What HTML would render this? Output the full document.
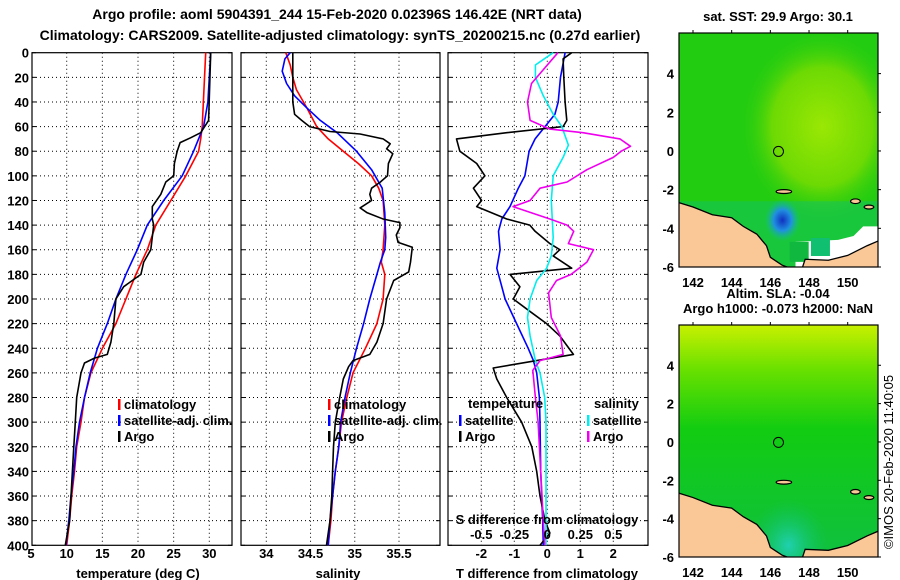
<!DOCTYPE html>
<html><head><meta charset="utf-8"><style>
body{margin:0;background:#fff}
svg{display:block;font-family:"Liberation Sans",sans-serif}
.tk{font-size:13px;font-weight:bold;fill:#000}
.grid{stroke:#000;stroke-width:1;stroke-dasharray:1 3}
</style></head><body>
<svg id="c" width="900" height="580" viewBox="0 0 900 580">
<defs>
<radialGradient id="sstY" cx="0.72" cy="0.4" r="0.42"><stop offset="0" stop-color="#b8ee00"/><stop offset="0.6" stop-color="#80dd00"/><stop offset="1" stop-color="#22cc11" stop-opacity="0"/></radialGradient>
<radialGradient id="sstB" cx="0.52" cy="0.8" r="0.09"><stop offset="0" stop-color="#1030c0"/><stop offset="0.5" stop-color="#2090e0"/><stop offset="1" stop-color="#10c090" stop-opacity="0"/></radialGradient>
<linearGradient id="slaG" x1="0" y1="0" x2="0" y2="1"><stop offset="0" stop-color="#c8f000"/><stop offset="0.2" stop-color="#66e000"/><stop offset="0.45" stop-color="#11cc11"/><stop offset="1" stop-color="#10c040"/></linearGradient>
<radialGradient id="slaC" cx="0.55" cy="0.95" r="0.2"><stop offset="0" stop-color="#20d0b0"/><stop offset="1" stop-color="#10c060" stop-opacity="0"/></radialGradient>
<clipPath id="m1c"><rect x="679" y="33" width="199" height="234"/></clipPath>
<clipPath id="m2c"><rect x="679" y="325" width="199" height="232"/></clipPath>
</defs>
<text x="337" y="19" text-anchor="middle" font-size="14" font-weight="bold">Argo profile: aoml 5904391_244 15-Feb-2020 0.02396S 146.42E (NRT data)</text>
<text x="340" y="40" text-anchor="middle" font-size="14" font-weight="bold">Climatology: CARS2009. Satellite-adjusted climatology: synTS_20200215.nc (0.27d earlier)</text>
<g id="plots"></g>
<g id="maps"></g>
<text transform="translate(893,462) rotate(-90)" text-anchor="middle" font-size="13">©IMOS 20-Feb-2020 11:40:05</text>
</svg>
<script>
// ---- data (depth in dbar) ----
const depthTicks=[0,20,40,60,80,100,120,140,160,180,200,220,240,260,280,300,320,340,360,380,400];
const tempTicks=[5,10,15,20,25,30];
const salTicks=[34,34.5,35,35.5];
const tdiffTicks=[-2,-1,0,1,2];
const sdiffTicks=[-0.5,-0.25,0,0.25,0.5];
const sdiffLabels=['-0.5','-0.25','0','0.25','0.5'];
const tClimD=[0,60,70,80,100,120,140,160,180,200,220,240,260,280,300,320,340,360,380,400];
const tClim=[29.5,29.0,28.8,28.5,26.7,24.6,22.5,21.3,19.7,18.3,16.9,15.0,13.4,12.5,12.0,11.4,11.1,10.7,10.4,10.0];
const tSatD=[0,40,60,80,100,120,140,160,180,200,220,240,260,280,300,320,340,360,380,400];
const tSat=[30.2,29.8,29.2,27.8,26.2,23.6,21.3,19.9,18.3,16.9,15.7,14.3,13.3,12.5,11.8,11.3,11.0,10.6,10.3,9.9];
const tArgoD=[0,55,65,69,73,80,90,100,105,115,125,135,140,160,170,180,185,190,200,220,235,245,248,252,260,280,300,320,340,360,380,400];
const tArgo=[30.2,29.9,28.8,27.4,25.9,25.5,25.1,25.0,23.9,23.2,22.0,22.0,22.2,21.8,20.8,20.4,19.2,18.0,16.9,16.6,16.2,15.7,13.9,12.5,12.0,11.4,11.2,11.0,10.8,10.6,10.4,9.8];
const sClimD=[0,10,20,30,45,60,70,80,90,100,110,120,140,160,170,180,200,220,240,260,280,300,320,340,360,380,400];
const sClim=[34.22,34.27,34.30,34.34,34.46,34.57,34.70,34.87,35.04,35.19,35.27,35.32,35.34,35.32,35.30,35.34,35.32,35.25,35.12,34.98,34.91,34.85,34.82,34.78,34.75,34.73,34.70];
const sSatD=[0,5,15,25,35,45,55,65,80,95,110,130,150,160,170,180,200,220,240,260,280,300,320,340,360,380,400];
const sSat=[34.27,34.21,34.18,34.23,34.32,34.46,34.61,34.80,35.02,35.19,35.31,35.34,35.35,35.34,35.29,35.25,35.17,35.10,35.02,34.95,34.89,34.84,34.82,34.78,34.75,34.72,34.70];
const sArgoD=[0,40,50,55,60,64,66,70,74,78,82,90,100,105,110,115,120,126,130,135,138,142,148,154,158,170,178,185,200,220,235,245,250,255,265,280,300,320,340,360,380,400];
const sArgo=[34.30,34.30,34.32,34.40,34.49,34.72,35.06,35.32,35.40,35.36,35.43,35.38,35.37,35.29,35.19,35.17,35.19,35.06,35.14,35.32,35.51,35.51,35.47,35.49,35.65,35.63,35.61,35.44,35.36,35.32,35.25,35.17,34.98,34.93,34.87,34.83,34.78,34.76,34.75,34.74,34.72,34.68];
const dTSatD=[0,20,40,50,60,70,80,100,110,125,135,145,160,175,190,200,220,240,250,260,280,300,340,380,400];
const dTSat=[0.54,0.40,0.33,0.23,-0.07,-0.37,-0.55,-0.68,-0.88,-1.13,-1.38,-1.48,-1.43,-1.53,-1.38,-1.28,-0.93,-0.58,-0.42,-0.32,-0.24,-0.22,-0.20,-0.14,-0.12];
const dTArgoD=[0,5,20,40,55,60,65,70,80,90,100,110,120,125,135,140,145,155,160,165,175,180,190,200,210,220,230,245,250,256,265,280,300,320,340,360,380,390,400];
const dTArgo=[0.74,0.48,0.50,0.54,0.59,0.48,-1.23,-2.75,-2.65,-2.14,-1.89,-2.24,-1.99,-2.14,-1.23,-0.53,-0.37,0.08,0.38,0.18,0.74,-1.13,-0.83,-1.03,-0.53,-0.02,0.38,0.79,-0.32,-1.64,-1.53,-1.23,-0.78,-0.47,-0.32,-0.22,-0.07,0.08,-0.22];
const dSSatD=[0,10,20,35,50,60,75,85,100,120,150,165,175,185,200,215,230,250,260,280,300,340,400];
const dSSat=[0.045,-0.09,-0.09,-0.03,0.045,0.11,0.16,0.12,0.045,0.03,0.045,0.03,-0.005,-0.08,-0.13,-0.15,-0.13,-0.09,-0.055,-0.02,-0.01,-0.01,-0.01];
const dSArgoD=[0,10,25,40,55,62,65,70,76,80,85,95,105,110,120,125,135,140,145,155,160,170,180,185,195,215,230,245,250,258,280,300,340,380,400];
const dSArgo=[0.08,0,-0.12,-0.15,-0.13,0.02,0.27,0.55,0.63,0.56,0.50,0.30,0.15,-0.055,-0.13,-0.26,0.02,0.15,0.20,0.16,0.35,0.30,0.18,0.07,0.01,0.03,0.10,0.12,-0.055,-0.11,-0.09,-0.07,-0.05,-0.03,-0.02];
const lonTicks=[142,144,146,148,150];
const latTicks=[-6,-4,-2,0,2,4];
const floatLon=146.42, floatLat=-0.02396;

const NS='http://www.w3.org/2000/svg';
const P=document.getElementById('plots'), M=document.getElementById('maps');
function mk(tag,par,at){const e=document.createElementNS(NS,tag);for(const k in at)e.setAttribute(k,at[k]);par.appendChild(e);return e;}
const yTop=52.7,yBot=545.3;
const yD=d=>yTop+(d/400)*(yBot-yTop);
function lin(d0,d1,r0,r1){return v=>r0+(v-d0)/(d1-d0)*(r1-r0);}
function panel(name,x0,x1,xf,ticks,fmt,yLabels){
  const g=mk('g',P,{});
  
  
  depthTicks.forEach(d=>{const y=yD(d);
    if(d>0&&d<400){mk('line',g,{x1:x0,x2:x1,y1:y,y2:y,class:'grid'});}
    mk('line',g,{x1:x0,x2:x0+4,y1:y,y2:y,stroke:'#000'});mk('line',g,{x1:x1-4,x2:x1,y1:y,y2:y,stroke:'#000'});
    if(yLabels){const t=mk('text',g,{x:x0-3,y:y+5,'text-anchor':'end',class:'tk'});t.textContent=d;
      
      }
  });
  ticks.forEach(v=>{const x=xf(v);
    if(x>x0+1&&x<x1-1)mk('line',g,{x1:x,x2:x,y1:yTop,y2:yBot,class:'grid'});
    const t=mk('text',g,{x:x,y:558,'text-anchor':'middle',class:'tk'});t.textContent=fmt(v);
    
    
  });
  mk('rect',g,{x:x0,y:yTop,width:x1-x0,height:yBot-yTop,fill:'none',stroke:'#000','stroke-width':1.2});
  return g;
}
function series(g,name,D,V,xf,col,w){
  const pts=D.map((d,i)=>xf(V[i]).toFixed(1)+','+yD(d).toFixed(1)).join(' ');
  const pl=mk('polyline',g,{points:pts,fill:'none',stroke:col,'stroke-width':w||1.6,'stroke-linejoin':'round'});
  
  
}
function txt(g,name,x,y,s,anchor){const t=mk('text',g,{x:x,y:y,class:'tk','text-anchor':anchor||'start'});t.textContent=s;
  
  return t;}
function legend(g,name,x,y,col,s){const gg=mk('g',g,{});
  
  
  mk('rect',gg,{x:x,y:y-10,width:2.5,height:11,fill:col});
  if(s)txt(gg,name+'-label',x+6,y,s);}

// temperature panel
const xT=lin(10,30,66.7,209.3);
const gT=panel('temperature-panel',32,232,xT,tempTicks,v=>v,true);
series(gT,'temp-climatology-line',tClimD,tClim,xT,'#f00');
series(gT,'temp-satellite-line',tSatD,tSat,xT,'#00f');
series(gT,'temp-argo-line',tArgoD,tArgo,xT,'#000');
legend(gT,'legend-climatology',118,409,'#f00','climatology');
legend(gT,'legend-satellite-adj',118,425,'#00f','satellite-adj. clim.');
legend(gT,'legend-argo',118,441,'#000','Argo');
txt(gT,'temperature-axis-title',138,578,'temperature (deg C)','middle');

// salinity panel
const xS=lin(34,35.5,266.3,399);
const gS=panel('salinity-panel',241,440,xS,salTicks,v=>v,false);
series(gS,'sal-climatology-line',sClimD,sClim,xS,'#f00');
series(gS,'sal-satellite-line',sSatD,sSat,xS,'#00f');
series(gS,'sal-argo-line',sArgoD,sArgo,xS,'#000');
legend(gS,'legend-climatology-sal',328,409,'#f00','climatology');
legend(gS,'legend-satellite-sal',328,425,'#00f','satellite-adj. clim.');
legend(gS,'legend-argo-sal',328,441,'#000','Argo');
txt(gS,'salinity-axis-title',338,578,'salinity','middle');

// difference panel
const xDT=lin(0,1,547.3,580.3);
const xDS=lin(0,0.25,547.3,580.3);
const gD=panel('difference-panel',448,648,xDT,tdiffTicks,v=>v,false);
series(gD,'tdiff-satellite-line',dTSatD,dTSat,xDT,'#00f');
series(gD,'tdiff-argo-line',dTArgoD,dTArgo,xDT,'#000');
series(gD,'sdiff-satellite-line',dSSatD,dSSat,xDS,'#0ee');
series(gD,'sdiff-argo-line',dSArgoD,dSArgo,xDS,'#e0e');
txt(gD,'legend-temperature-title',468,408,'temperature');
legend(gD,'legend-tdiff-satellite',459,425,'#00f','satellite');
legend(gD,'legend-tdiff-argo',459,441,'#000','Argo');
txt(gD,'legend-salinity-title',594,408,'salinity');
legend(gD,'legend-sdiff-satellite',587,425,'#0ee','satellite');
legend(gD,'legend-sdiff-argo',587,441,'#e0e','Argo');
txt(gD,'s-diff-axis-title',547,524,'S difference from climatology','middle');
sdiffTicks.forEach((v,i)=>txt(gD,'s-diff-tick-label',xDS(v),539,sdiffLabels[i],'middle'));
txt(gD,'t-diff-axis-title',547,578,'T difference from climatology','middle');

// maps
function map(name,y0,y1,clip,fillFn,title1){
  const g=mk('g',M,{});
  
  
  const x0=679,x1=878;
  const lx=lin(142,150,693,847.7);
  const ly=lin(0,-6,y0+(y1-y0)*(6.1/12.1),y1);
  const gc=mk('g',g,{'clip-path':'url(#'+clip+')'});
  fillFn(gc,x0,y0,x1,y1,lx,ly);
  const coast=[[141.2,-2.65],[142,-2.9],[143,-3.3],[144,-3.45],[144.6,-3.9],[145.3,-4.3],[145.8,-4.9],[146,-5.5],[146.6,-5.9],[147.4,-6.2],[141.2,-6.2]];
  mk('polygon',gc,{points:coast.map(p=>lx(p[0])+','+ly(p[1])).join(' '),fill:'#f9c896',stroke:'#000','stroke-width':1.3});
  const se=[[147.6,-6.2],[147.8,-5.6],[149,-5.65],[150,-5.4],[151,-4.9],[151.7,-4.6],[151.7,-6.2]];
  mk('polygon',gc,{points:se.map(p=>lx(p[0])+','+ly(p[1])).join(' '),fill:'#f9c896',stroke:'#000','stroke-width':1.3});
  [[146.7,-2.1,0.4,0.1],[150.4,-2.6,0.25,0.12],[151.1,-2.9,0.25,0.1]].forEach(i=>mk('ellipse',gc,{cx:lx(i[0]),cy:ly(i[1]),rx:i[2]*19.35,ry:i[3]*19.35,fill:'#f9c896',stroke:'#000','stroke-width':1.2}));
  mk('rect',g,{x:x0,y:y0,width:x1-x0,height:y1-y0,fill:'none',stroke:'#000','stroke-width':1.2});
  const c=mk('circle',g,{cx:lx(floatLon),cy:ly(floatLat),r:5,fill:'none',stroke:'#000'});
  
  
  latTicks.forEach(v=>{const y=ly(v);mk('line',g,{x1:x1,x2:x1+3,y1:y,y2:y,stroke:'#000'});
    txt(g,'lat-tick-label',674,y+5,String(v),'end');});
  lonTicks.forEach(v=>{const x=lx(v);mk('line',g,{x1:x,x2:x,y1:y0-3,y2:y0,stroke:'#000'});
    txt(g,'lon-tick-label',x,y1+20,String(v),'middle');});
  if(title1)txt(g,'map-title',778,y0-12,title1,'middle');
  return g;
}
map('sst-map',33,267,'m1c',(g,x0,y0,x1,y1,lx,ly)=>{
  mk('rect',g,{x:x0,y:y0,width:x1-x0,height:y1-y0,fill:'#22cc11'});
  mk('rect',g,{x:x0,y:y0,width:x1-x0,height:y1-y0,fill:'url(#sstY)',opacity:0.8});
  mk('rect',g,{x:x0,y:ly(-2.6),width:x1-x0,height:y1-ly(-2.6),fill:'#10c070',opacity:0.45});
  mk('rect',g,{x:x0,y:y0,width:x1-x0,height:y1-y0,fill:'url(#sstB)'});
  mk('polygon',g,{points:[[147.3,-4.7],[149.5,-4.6],[150.3,-4.4],[150.8,-3.9],[151.7,-3.9],[151.7,-6.2],[147.3,-6.2]].map(p=>lx(p[0])+','+ly(p[1])).join(' '),fill:'#fff'});
  mk('rect',g,{x:lx(148.1),y:ly(-4.5),width:19,height:18,fill:'#10c070'});
  mk('rect',g,{x:lx(147),y:ly(-4.7),width:19,height:20,fill:'#10b840'});
},'sat. SST: 29.9 Argo: 30.1');
txt(M,'altim-sla-label',778,298,'Altim. SLA: -0.04','middle');
txt(M,'argo-height-label',778,313,'Argo h1000: -0.073 h2000: NaN','middle');
map('sla-map',325,557,'m2c',(g,x0,y0,x1,y1)=>{
  mk('rect',g,{x:x0,y:y0,width:x1-x0,height:y1-y0,fill:'url(#slaG)'});
  mk('rect',g,{x:x0,y:y0,width:x1-x0,height:y1-y0,fill:'url(#slaC)'});
},null);
</script>
</body></html>
